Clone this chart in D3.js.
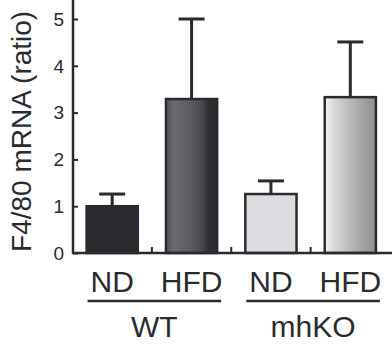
<!DOCTYPE html>
<html><head><meta charset="utf-8">
<script src="https://cdn.jsdelivr.net/npm/d3@7"></script>
<style>html,body{margin:0;padding:0;background:#fff;}svg{display:block;}</style>
</head><body>
<svg id="c" width="392" height="352"></svg>
<script>
const categories = ["ND-WT", "HFD-WT", "ND-mhKO", "HFD-mhKO"];
const dietLabels = ["ND", "HFD", "ND", "HFD"];
const groups = ["WT", "mhKO"];
const values = [1.0, 3.29, 1.26, 3.33];
const errors = [0.26, 1.71, 0.28, 1.18];
const yTicks = [0, 1, 2, 3, 4, 5];
const yTitle = "F4/80 mRNA (ratio)";

const svg = d3.select("#c");
const ink = "#2a2b2e";
const font = "'Liberation Sans', Arial, sans-serif";

const x = d3.scaleBand().domain(categories).range([72.5, 390]).paddingInner(0.33).paddingOuter(0.165);
const y = d3.scaleLinear().domain([0, 5]).range([253, 19]);

const defs = svg.append("defs");
const g2 = defs.append("linearGradient").attr("id", "gDark");
[[0,"#505156"],[0.15,"#6b6c70"],[0.5,"#5a5b5f"],[0.72,"#46474b"],[0.82,"#2f3034"],[1,"#2a2b2f"]]
  .forEach(s => g2.append("stop").attr("offset", s[0]).attr("stop-color", s[1]));
const g4 = defs.append("linearGradient").attr("id", "gLight");
[[0,"#f4f4f4"],[0.15,"#dedede"],[0.45,"#bdbdbd"],[0.75,"#a2a2a2"],[1,"#8f8f8f"]]
  .forEach(s => g4.append("stop").attr("offset", s[0]).attr("stop-color", s[1]));
const fills = [ink, "url(#gDark)", "#dcdde0", "url(#gLight)"];

// error bars
const bw = x.bandwidth();
categories.forEach((c, i) => {
  const cx = x(c) + bw / 2;
  svg.append("line").attr("x1", cx).attr("x2", cx).attr("y1", y(values[i])).attr("y2", y(values[i] + errors[i]))
    .attr("stroke", ink).attr("stroke-width", 3);
  svg.append("line").attr("x1", cx - 13).attr("x2", cx + 13).attr("y1", y(values[i] + errors[i])).attr("y2", y(values[i] + errors[i]))
    .attr("stroke", ink).attr("stroke-width", 3);
});

// bars
svg.selectAll("rect.bar").data(categories).enter().append("rect")
  .attr("class", "bar")
  .attr("x", d => x(d) + 1)
  .attr("y", (d, i) => y(values[i]))
  .attr("width", bw - 2)
  .attr("height", (d, i) => y(0) - y(values[i]))
  .attr("fill", (d, i) => fills[i])
  .attr("stroke", ink).attr("stroke-width", 2.5);

// y axis
const ya = svg.append("g").attr("transform", "translate(73,0)")
  .call(d3.axisRight(y).tickValues(yTicks).tickSize(5).tickFormat(""));
ya.select(".domain").remove();
ya.selectAll("line").attr("stroke", ink).attr("stroke-width", 2);
svg.append("line").attr("x1", 73).attr("x2", 73).attr("y1", 0).attr("y2", 254).attr("stroke", ink).attr("stroke-width", 2.5);
svg.selectAll("text.yl").data(yTicks).enter().append("text").attr("class", "yl")
  .attr("x", 64).attr("y", d => y(d)).attr("dy", "0.36em")
  .attr("text-anchor", "end").attr("font-family", font).attr("font-size", 19).attr("fill", ink)
  .text(d => d);

// x baseline and boundary ticks
svg.append("line").attr("x1", 72).attr("x2", 392).attr("y1", 253).attr("y2", 253).attr("stroke", ink).attr("stroke-width", 2.5);
[1, 2, 3].forEach(i => {
  const bx = x.range()[0] + x.step() * i;
  svg.append("line").attr("x1", bx).attr("x2", bx).attr("y1", 253).attr("y2", 247).attr("stroke", ink).attr("stroke-width", 2);
});

// diet labels
svg.selectAll("text.xl").data(categories).enter().append("text").attr("class", "xl")
  .attr("x", d => x(d) + bw / 2).attr("y", 292)
  .attr("text-anchor", "middle").attr("font-family", font).attr("font-size", 30).attr("fill", ink)
  .text((d, i) => dietLabels[i]);

// group lines and labels
groups.forEach((gname, gi) => {
  const a = categories[gi * 2], b = categories[gi * 2 + 1];
  const x1 = x(a) + 2, x2 = x(b) + bw + 3;
  svg.append("line").attr("x1", x1).attr("x2", x2).attr("y1", 301).attr("y2", 301).attr("stroke", ink).attr("stroke-width", 2.5);
  svg.append("text").attr("x", (x1 + x2) / 2).attr("y", 337).attr("text-anchor", "middle")
    .attr("font-family", font).attr("font-size", 30).attr("fill", ink).text(gname);
});

// y title
svg.append("text").attr("transform", "translate(31,252) rotate(-90)")
  .attr("text-anchor", "start").attr("font-family", font).attr("font-size", 28).attr("fill", ink)
  .text(yTitle);
</script>
</body></html>
